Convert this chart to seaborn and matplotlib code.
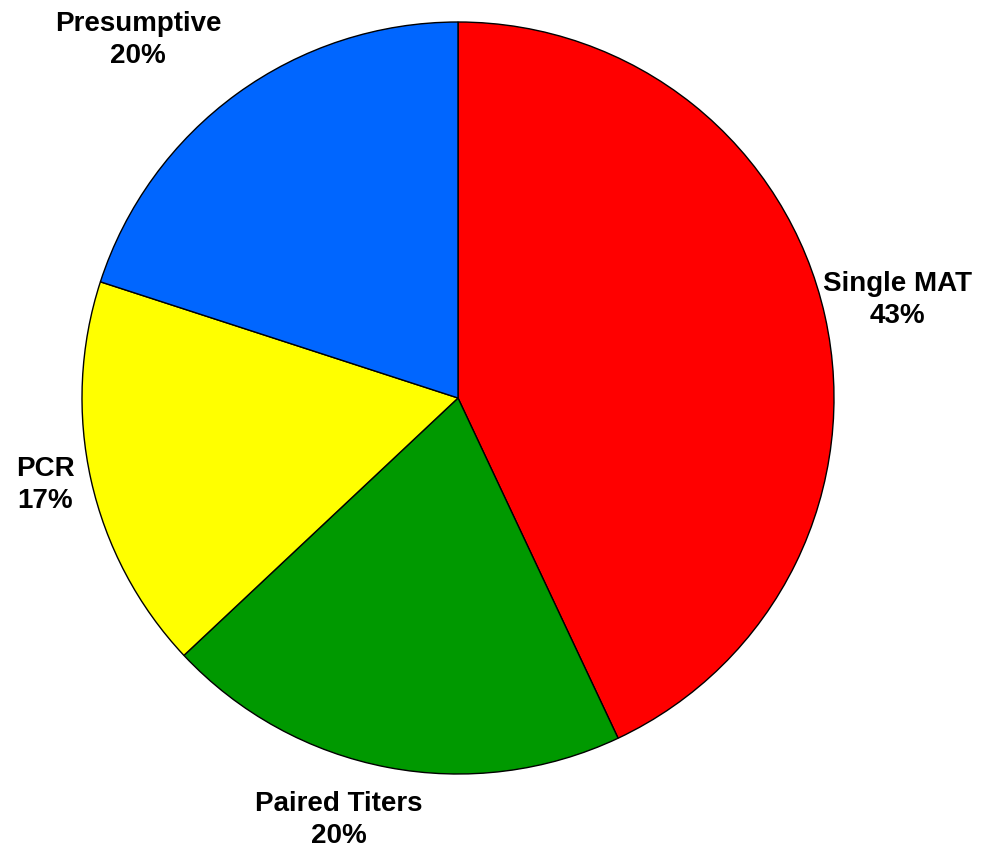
import seaborn as sns
import matplotlib.pyplot as plt

# Data
categories = ['Single MAT', 'Paired Titers', 'PCR', 'Presumptive']
shares = [43, 20, 17, 20]

# Styling
colors = ['#FF0000', '#009900', '#FFFF00', '#0066FF']
# label centres, in units of the pie radius relative to the pie centre
label_xy = {
    'Single MAT': (1.168, 0.261),
    'Paired Titers': (-0.316, -1.122),
    'PCR': (-1.098, -0.231),
    'Presumptive': (-0.851, 0.952),
}

sns.set_theme(style='white')
plt.rcParams['font.family'] = ['Liberation Sans', 'DejaVu Sans']

fig = plt.figure(figsize=(10.03, 8.55), dpi=100)
ax = fig.add_axes([0, 0, 1, 1])

ax.pie(shares, colors=colors, startangle=90, counterclock=False,
       wedgeprops={'edgecolor': 'black', 'linewidth': 1.0})

for name, val in zip(categories, shares):
    x, y = label_xy[name]
    ax.text(x, y, f'{name}\n{val}%', ha='center', va='center',
            multialignment='center', fontsize=20, fontweight='bold',
            color='black', linespacing=1.3)

# pie centre at (458, 398) px, radius 376 px
ax.set_xlim(-458 / 376, (1003 - 458) / 376)
ax.set_ylim((398 - 855) / 376, 398 / 376)
ax.set_aspect('auto')
ax.axis('off')

plt.savefig('out.png', dpi=100, facecolor='white')
